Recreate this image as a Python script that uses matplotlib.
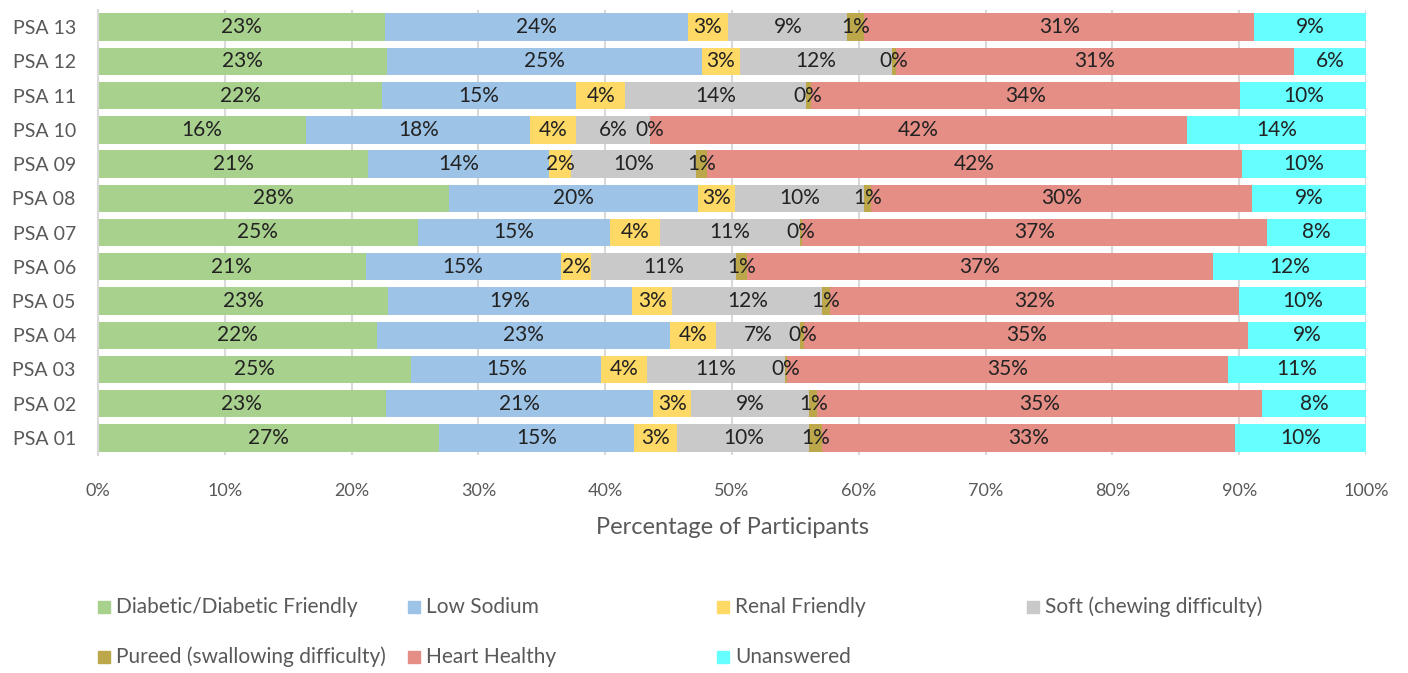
import matplotlib.pyplot as plt
from matplotlib.patches import Rectangle
import numpy as np

plt.rcParams['font.family'] = ['Lato', 'DejaVu Sans']

# rows from bottom (PSA 01) to top (PSA 13)
regions = ['PSA 01', 'PSA 02', 'PSA 03', 'PSA 04', 'PSA 05', 'PSA 06', 'PSA 07',
           'PSA 08', 'PSA 09', 'PSA 10', 'PSA 11', 'PSA 12', 'PSA 13']

diabetic   = [26.9, 22.7, 24.7, 22.0, 22.9, 21.1, 25.2, 27.7, 21.3, 16.4, 22.4, 22.8, 22.6]
low_sodium = [15.4, 21.1, 15.0, 23.1, 19.2, 15.4, 15.2, 19.6, 14.3, 17.7, 15.3, 24.8, 23.9]
renal      = [3.4, 3.0, 3.6, 3.6, 3.2, 2.4, 3.9, 2.9, 1.7, 3.6, 3.9, 3.0, 3.2]
soft       = [10.4, 9.3, 10.9, 6.7, 11.8, 11.4, 11.1, 10.2, 9.9, 5.8, 14.2, 12.0, 9.4]
pureed     = [1.0, 0.6, 0.1, 0.3, 0.6, 0.9, 0.1, 0.6, 0.8, 0.0, 0.4, 0.3, 1.3]
heart      = [32.6, 35.1, 34.8, 35.0, 32.3, 36.7, 36.7, 30.0, 42.2, 42.4, 33.9, 31.4, 30.8]
unanswered = [10.3, 8.2, 10.9, 9.3, 10.0, 12.1, 7.8, 9.0, 9.8, 14.1, 9.9, 5.7, 8.8]

series_names = ['Diabetic/Diabetic Friendly', 'Low Sodium', 'Renal Friendly',
                'Soft (chewing difficulty)', 'Pureed (swallowing difficulty)',
                'Heart Healthy', 'Unanswered']
series = [diabetic, low_sodium, renal, soft, pureed, heart, unanswered]
colors = ['#A9D18E', '#9DC3E6', '#FFD966', '#C9C9C9', '#BCA84A', '#E48E85', '#66FFFF']

fig = plt.figure(figsize=(14.08, 6.73), dpi=100)
ax = fig.add_axes([98 / 1408, 1 - 455 / 673, (1366 - 98) / 1408, 445 / 673])

y = np.arange(len(regions))
left = np.zeros(len(regions))
for vals, name, col in zip(series, series_names, colors):
    vals = np.array(vals)
    ax.barh(y, vals, left=left, height=0.8, color=col, label=name, zorder=2)
    for yi, l, v in zip(y, left, vals):
        ax.text(l + v / 2, yi, f'{v:.0f}%', ha='center', va='center',
                fontsize=15, color='#222222', zorder=3)
    left += vals

ax.set_xlim(0, 100)
ax.set_ylim(-0.5, len(regions) - 0.5)
ax.set_xticks(np.arange(0, 101, 10))
ax.set_xticklabels([f'{t}%' for t in range(0, 101, 10)])
ax.set_yticks(y)
ax.set_yticklabels(regions)
ax.tick_params(axis='both', length=0, colors='#595959', labelsize=13)
ax.tick_params(axis='y', pad=16, labelsize=14)
ax.tick_params(axis='x', pad=20)
ax.grid(axis='x', color='#D9D9D9', linewidth=1.5, zorder=0)
for s in ['top', 'right', 'bottom']:
    ax.spines[s].set_visible(False)
ax.spines['left'].set_color('#D9D9D9')
ax.spines['left'].set_linewidth(1.5)
ax.set_xlabel('Percentage of Participants', fontsize=17, color='#595959', labelpad=13)

# legend laid out like the original: fixed column spacing
col_x = [98, 408, 717, 1027]
row_y = [607, 657]
for i, (name, col) in enumerate(zip(series_names, colors)):
    r, c = divmod(i, 4)
    px, py = col_x[c], row_y[r]
    fig.add_artist(Rectangle((px / 1408, 1 - (py + 6) / 673), 12 / 1408, 12 / 673,
                             transform=fig.transFigure, color=col))
    fig.text((px + 18) / 1408, 1 - py / 673, name, ha='left', va='center',
             fontsize=15, color='#595959')

fig.savefig('out.png', dpi=100)
